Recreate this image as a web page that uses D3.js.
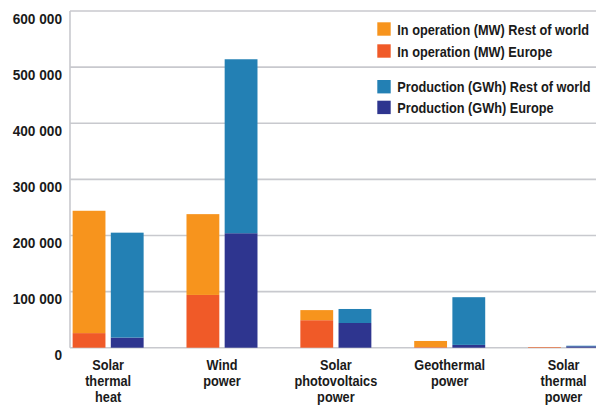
<!DOCTYPE html>
<html>
<head>
<meta charset="utf-8">
<script src="https://cdn.jsdelivr.net/npm/d3@7"></script>
<style>
  html, body { margin: 0; padding: 0; background: #fff; }
  svg { display: block; }
  text { font-family: "Liberation Sans", Arial, sans-serif; font-weight: bold; fill: #1a1a1a; }
</style>
</head>
<body>
<svg id="chart" width="596" height="405"></svg>
<script>
// Renewable energy: installed capacity (MW) and production (GWh), Europe vs rest of world
const categories = ["Solar thermal heat", "Wind power", "Solar photovoltaics power", "Geothermal power", "Solar thermal power"];
const categoryLines = [
  ["Solar", "thermal", "heat"],
  ["Wind", "power"],
  ["Solar", "photovoltaics", "power"],
  ["Geothermal", "power"],
  ["Solar", "thermal", "power"]
];
const operationEurope = [26000, 94000, 49000, 1000, 1000];
const operationRest   = [218000, 144000, 18000, 11000, 200];
const productionEurope = [18000, 204000, 44000, 5000, 2500];
const productionRest   = [187000, 310000, 25000, 85000, 1000];
const yTicks = [0, 100000, 200000, 300000, 400000, 500000, 600000];
const tickLabels = ["0", "100 000", "200 000", "300 000", "400 000", "500 000", "600 000"];

const legendItems = [
  { label: "In operation (MW) Rest of world", color: "#f7941d" },
  { label: "In operation (MW) Europe", color: "#f05a28" },
  { label: "Production (GWh) Rest of world", color: "#2380b4" },
  { label: "Production (GWh) Europe", color: "#2e358f" }
];

const svg = d3.select("#chart");
const plotLeft = 70, plotRight = 596;
const condense = 0.85; // horizontal squeeze for a condensed type look

const y = d3.scaleLinear().domain([0, 600000]).range([347.7, 11]);
const x = d3.scaleBand().domain(categories).range([51.2, 620.5]).padding(0);
const sub = d3.scaleBand().domain(["operation", "production"]).range([0, 71]).paddingInner(0.14);
const groupStart = c => x(c) + x.bandwidth() / 2 - 35.5;

// Gridlines
svg.append("g")
  .selectAll("line")
  .data(yTicks)
  .join("line")
  .attr("x1", plotLeft).attr("x2", plotRight)
  .attr("y1", d => y(d)).attr("y2", d => y(d))
  .attr("stroke", "#c8c9ce").attr("stroke-width", 1.6);

// Vertical axis line
svg.append("line")
  .attr("x1", plotLeft).attr("x2", plotLeft)
  .attr("y1", y(600000)).attr("y2", y(0))
  .attr("stroke", "#c8c9ce").attr("stroke-width", 1.6);

// Tick labels
svg.append("g")
  .selectAll("text")
  .data(yTicks)
  .join("text")
  .attr("transform", d => `translate(62,${y(d) + 12.5}) scale(0.91,1)`)
  .attr("text-anchor", "end")
  .attr("font-size", 15)
  .text((d, i) => tickLabels[i]);

// Stacked bars
const stacks = categories.map((c, i) => ({
  cat: c,
  bars: [
    { key: "operation", segs: [
      { y0: 0, y1: operationEurope[i], color: legendItems[1].color },
      { y0: operationEurope[i], y1: operationEurope[i] + operationRest[i], color: legendItems[0].color }
    ]},
    { key: "production", segs: [
      { y0: 0, y1: productionEurope[i], color: legendItems[3].color },
      { y0: productionEurope[i], y1: productionEurope[i] + productionRest[i], color: legendItems[2].color }
    ]}
  ]
}));

const groups = svg.append("g")
  .selectAll("g")
  .data(stacks)
  .join("g")
  .attr("transform", d => `translate(${groupStart(d.cat)},0)`);

groups.selectAll("g")
  .data(d => d.bars)
  .join("g")
  .selectAll("rect")
  .data(function(d) { const k = d.key; return d.segs.map(s => ({ ...s, key: k })); })
  .join("rect")
  .attr("x", d => sub(d.key))
  .attr("width", sub.bandwidth())
  .attr("y", d => y(d.y1))
  .attr("height", d => y(d.y0) - y(d.y1))
  .attr("fill", d => d.color);

// Category labels
const labels = svg.append("g")
  .selectAll("text")
  .data(categories)
  .join("text")
  .attr("text-anchor", "middle")
  .attr("font-size", 15)
  .attr("transform", c => `translate(${x(c) + x.bandwidth() / 2},370) scale(${condense},1)`);
labels.selectAll("tspan")
  .data((c, i) => categoryLines[i])
  .join("tspan")
  .attr("x", 0)
  .attr("dy", (d, i) => i === 0 ? 0 : 16)
  .text(d => d);

// Legend
const legendY = [22.3, 44.3, 80, 100.7];
const legend = svg.append("g")
  .selectAll("g")
  .data(legendItems)
  .join("g")
  .attr("transform", (d, i) => `translate(377.3,${legendY[i]})`);
legend.append("rect")
  .attr("width", 13.4).attr("height", 13.4)
  .attr("fill", d => d.color);
legend.append("text")
  .attr("transform", `translate(20,12.4) scale(${condense},1)`)
  .attr("font-size", 15)
  .text(d => d.label);
</script>
</body>
</html>
